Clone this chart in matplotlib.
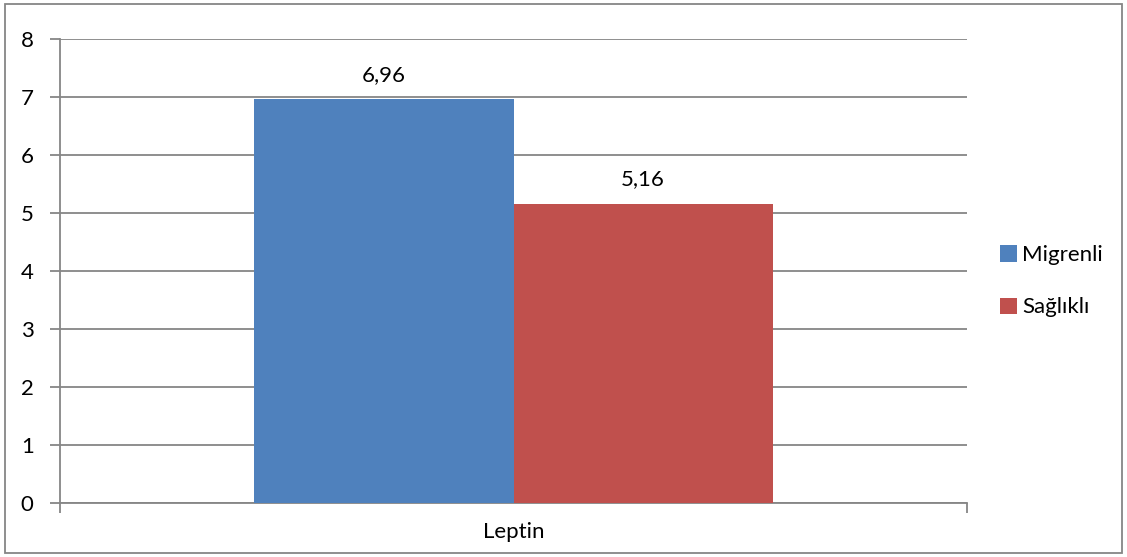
import numpy as np
import matplotlib.pyplot as plt
from matplotlib.patches import Rectangle

category = ['Leptin']
series = ['Migrenli', 'Sağlıklı']
values = [6.96, 5.16]
value_labels = ['6,96', '5,16']
colors = ['#4f81bd', '#c0504d']

plt.rcParams['font.family'] = ['Lato', 'DejaVu Sans']
fs = 16

fig = plt.figure(figsize=(11.27, 5.57), dpi=100)
ax = fig.add_axes([60/1127, 54/557, 907/1127, 464/557])

width = 0.2856
offsets = [-width/2, width/2]
for i in range(len(series)):
    ax.bar(offsets[i], values[i], width=width, color=colors[i], label=series[i], zorder=3)
    ax.text(offsets[i], values[i] + 0.25, value_labels[i], ha='center', va='bottom', fontsize=fs)

ax.set_xlim(-0.5, 0.5)
ax.set_ylim(0, 8)
ax.set_yticks(range(0, 9))
ax.yaxis.grid(True, color='#868686', linewidth=1.3, zorder=0)
ax.set_xticks([-0.5, 0.5])
ax.set_xticklabels(['', ''])
ax.tick_params(axis='x', length=7, color='#868686', width=1.3)
ax.tick_params(axis='y', length=7, color='#868686', width=1.3, labelsize=fs, pad=12)
ax.text(0, -0.33, category[0], ha='center', va='top', fontsize=fs, transform=ax.transData)

for s in ['top', 'right']:
    ax.spines[s].set_visible(False)
for s in ['left', 'bottom']:
    ax.spines[s].set_color('#868686')
    ax.spines[s].set_linewidth(1.3)

leg = fig.legend(loc='center left', bbox_to_anchor=(980/1127, 0.495), frameon=False,
                 fontsize=fs, handlelength=0.75, handleheight=0.75, handletextpad=0.25,
                 labelspacing=1.45)

# outer chart border
fig.add_artist(Rectangle((5/1127, 4/557), 1117/1127, 549/557, transform=fig.transFigure,
                         fill=False, edgecolor='#868686', linewidth=1.3))

fig.savefig('out.png', dpi=100)
